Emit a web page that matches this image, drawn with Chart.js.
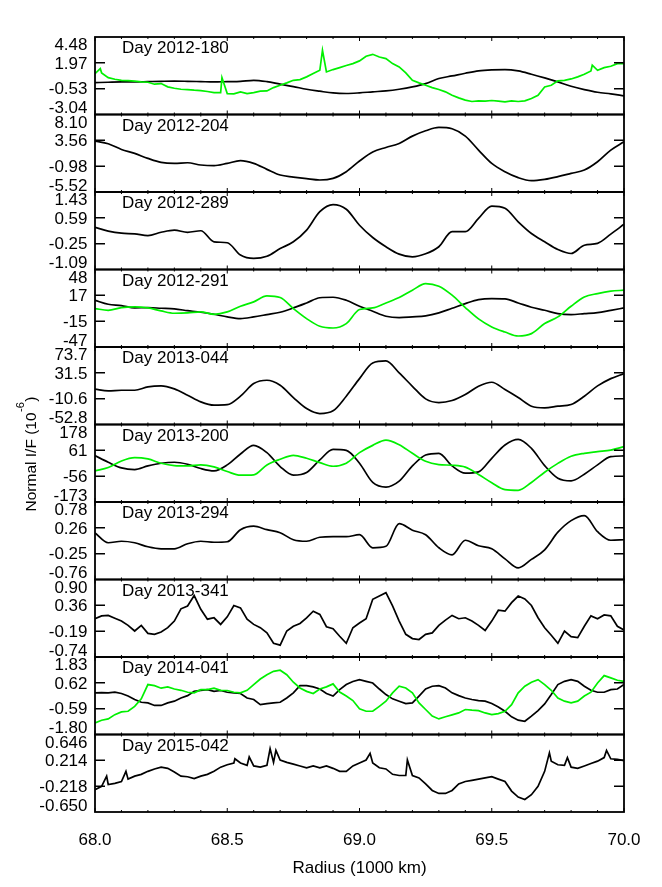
<!DOCTYPE html>
<html lang="en">
<head>
<meta charset="UTF-8">
<title>Normal I/F radial profiles</title>
<script src="https://cdn.jsdelivr.net/npm/chart.js@4"></script>
<style>
  html, body { margin: 0; padding: 0; background: #fff; }
  #wrap { width: 662px; height: 887px; }
</style>
</head>
<body>
<div id="wrap"><canvas id="profiles" width="662" height="887"></canvas></div>
<script>
// radius grids (1000 km)
const r41 = [68.00,68.05,68.10,68.15,68.20,68.25,68.30,68.35,68.40,68.45,68.50,68.55,68.60,68.65,68.70,68.75,68.80,68.85,68.90,68.95,
  69.00,69.05,69.10,69.15,69.20,69.25,69.30,69.35,69.40,69.45,69.50,69.55,69.60,69.65,69.70,69.75,69.80,69.85,69.90,69.95,70.00];
const r81 = [68.000,68.025,68.050,68.075,68.100,68.125,68.150,68.175,68.200,68.225,68.250,68.275,68.300,68.325,68.350,68.375,
  68.400,68.425,68.450,68.475,68.500,68.525,68.550,68.575,68.600,68.625,68.650,68.675,68.700,68.725,68.750,68.775,
  68.800,68.825,68.850,68.875,68.900,68.925,68.950,68.975,69.000,69.025,69.050,69.075,69.100,69.125,69.150,69.175,
  69.200,69.225,69.250,69.275,69.300,69.325,69.350,69.375,69.400,69.425,69.450,69.475,69.500,69.525,69.550,69.575,
  69.600,69.625,69.650,69.675,69.700,69.725,69.750,69.775,69.800,69.825,69.850,69.875,69.900,69.925,69.950,69.975,70.000];

const xTickValues = [68.0, 68.5, 69.0, 69.5, 70.0];

const panelDays = ['Day 2012-180', 'Day 2012-204', 'Day 2012-289', 'Day 2012-291', 'Day 2013-044',
  'Day 2013-200', 'Day 2013-294', 'Day 2013-341', 'Day 2014-041', 'Day 2015-042'];

// y labels per panel, bottom to top
const yTickLabels = [
  ['-3.04', '-0.53', '1.97', '4.48'],
  ['-5.52', '-0.98', '3.56', '8.10'],
  ['-1.09', '-0.25', '0.59', '1.43'],
  ['-47', '-15', '17', '48'],
  ['-52.8', '-10.6', '31.5', '73.7'],
  ['-173', '-56', '61', '178'],
  ['-0.76', '-0.25', '0.26', '0.78'],
  ['-0.74', '-0.19', '0.36', '0.90'],
  ['-1.80', '-0.59', '0.62', '1.83'],
  ['-0.650', '-0.218', '0.214', '0.646']
];

// Day 2012-180
const k180 = [0.05,0.09,0.12,0.12,0.15,0.18,0.2,0.18,0.15,0.12,0.15,0.18,0.28,0.15,-0.1,-0.33,-0.59,-0.78,-0.95,-1.0,
  -0.94,-0.84,-0.75,-0.59,-0.36,-0.04,0.45,0.70,0.96,1.19,1.29,1.32,1.19,0.87,0.51,0.12,-0.3,-0.62,-0.88,-1.04,-1.23];
const g180 = [0.93,1.0,0.54,0.38,0.28,0.25,0.19,0.12,0.09,-0.1,-0.04,-0.36,-0.49,-0.59,-0.62,-0.68,-0.72,-0.81,-0.91,-0.91,
  -1.01,-1.04,-0.84,-1.01,-0.91,-0.78,-0.75,-0.43,-0.2,0.03,0.28,0.35,0.61,0.93,1.25,1.09,1.32,1.51,1.71,1.90,
  2.16,2.61,2.80,2.54,2.38,1.90,1.58,1.0,0.28,0.03,-0.2,-0.43,-0.62,-0.84,-1.17,-1.43,-1.65,-1.78,-1.72,-1.75,
  -1.68,-1.75,-1.81,-1.72,-1.78,-1.72,-1.49,-1.17,-0.36,-0.2,0.22,0.28,0.41,0.61,0.87,1.19,1.25,1.51,1.64,1.90,1.90];
const g180Spikes = [[68.02, 1.41], [68.48, 0.54], [68.86, 3.19], [69.88, 1.74]];

// Day 2012-204
const k204 = [3.42,2.96,1.96,1.26,0.38,-0.32,-0.49,-0.38,-0.78,-0.9,-0.49,-0.02,-0.49,-1.54,-2.54,-2.89,-3.18,-3.41,-3.12,-1.95,
  -0.08,1.5,2.31,3.01,4.3,5.24,5.82,5.59,4.3,1.85,-0.49,-1.95,-3.0,-3.53,-3.3,-2.83,-2.25,-1.66,-0.2,1.85,3.31];

// Day 2012-289
const k289 = [0.28,0.16,0.09,0.07,0.01,0.12,0.19,0.12,0.17,-0.19,-0.22,-0.62,-0.73,-0.66,-0.41,-0.19,0.19,0.79,1.02,0.87,
  0.35,-0.05,-0.35,-0.59,-0.68,-0.58,-0.35,0.14,0.14,0.57,0.97,0.9,0.46,0.08,-0.19,-0.44,-0.57,-0.3,-0.24,0.06,0.38];

// Day 2012-291
const k291 = [10.3,5.4,3.8,0.9,1.3,0.5,-0.3,-2.4,-4.4,-6.9,-10.1,-12.2,-10.1,-7.3,-4.4,0.9,7.0,13.4,14.0,10.3,
  3.0,-3.2,-9.3,-11.0,-10.1,-8.9,-5.2,0.5,6.2,11.1,12.4,12.0,7.0,1.7,-2.0,-6.1,-7.3,-6.1,-4.8,-2.0,0.9];
const g291 = [0.1,-2.0,1.3,2.1,0.9,-2.8,-5.6,-5.2,-4.0,-6.9,-4.0,3.0,8.3,15.6,13.6,0.1,-12.2,-21.6,-23.7,-18.3,
  -1.1,0.9,7.0,13.6,22.6,30.8,27.5,16.5,1.3,-12.6,-22.4,-28.6,-33.5,-30.6,-18.3,-10.1,3.0,14.4,18.5,21.4,22.6];

// Day 2013-044
const k044 = [4.8,2.0,3.1,3.1,8.6,10.2,5.3,-5.0,-15.9,-21.3,-20.5,-6.6,14.0,19.4,11.3,-8.8,-26.7,-34.9,-30.5,-6.6,
  22.1,47.6,50.9,31.4,9.6,-11.0,-17.0,-13.7,-3.9,9.6,16.2,4.2,-8.8,-22.9,-25.6,-22.9,-20.2,-6.6,10.2,22.1,30.3];

// Day 2013-200
const k200 = [37,7,-18.5,-26,-9.5,2.5,7,-2,-21.5,-32,-5,44.5,83.5,50.5,-12.5,-51.5,-39.5,17.5,65.5,61,
  2.5,-84.5,-105.5,-78.5,-9.5,40,47.5,-9.5,-42.5,-36.5,25,85,110.5,70,-8,-65,-77,-47,-5,32.5,35.5];
const g200 = [-32,-17,13,28,22,2.5,-8,-9.5,-5,-14,-35,-51.5,-50,-5,20.5,38.5,25,5.5,-11,2.5,
  50.5,83.5,107.5,86.5,47.5,11.5,-3.5,-6.5,-15,-48,-86,-117,-120,-84.5,-38,2,34,47.5,55,62,77.5];

// Day 2013-294
const k294 = [0.165,-0.03,0.0,-0.03,-0.11,-0.15,-0.15,-0.05,0.0,-0.02,-0.01,0.23,0.30,0.23,0.17,0.03,0.0,0.08,0.09,0.09,
  0.13,-0.13,-0.10,0.35,0.22,0.13,-0.13,-0.27,0.02,-0.09,-0.15,-0.35,-0.53,-0.36,-0.17,0.18,0.41,0.51,0.19,0.02,0.03];

// Day 2013-341
const k341 = [0.07,0.13,0.14,0.08,0.02,-0.07,-0.19,-0.07,-0.24,-0.26,-0.21,-0.12,0.02,0.28,0.34,0.56,0.27,0.06,0.09,-0.05,
  0.11,0.35,0.30,0.06,-0.05,-0.12,-0.23,-0.45,-0.49,-0.19,-0.09,-0.03,0.09,0.23,0.16,-0.10,-0.14,-0.30,-0.45,-0.12,
  -0.02,0.07,0.48,0.55,0.62,0.34,0.02,-0.26,-0.35,-0.37,-0.26,-0.23,-0.07,0.04,0.14,0.07,0.09,0.02,-0.07,-0.18,
  0.02,0.25,0.23,0.41,0.55,0.49,0.35,0.09,-0.12,-0.28,-0.45,-0.19,-0.31,-0.33,-0.09,0.13,0.07,0.15,0.13,-0.09,-0.17];

// Day 2014-041
const k041 = [0.15,0.16,0.15,0.18,0.12,0.0,-0.16,-0.29,-0.32,-0.44,-0.44,-0.32,-0.24,-0.09,0.02,0.22,0.27,0.3,0.22,0.26,
  0.18,0.15,0.12,-0.09,-0.16,-0.4,-0.35,-0.32,-0.29,-0.09,0.15,0.49,0.49,0.43,0.33,0.12,0.0,0.3,0.54,0.68,
  0.77,0.69,0.61,0.33,0.07,-0.13,-0.24,-0.35,-0.32,0.0,0.33,0.46,0.49,0.38,0.15,0.02,-0.09,-0.16,-0.21,-0.24,
  -0.35,-0.51,-0.71,-0.97,-1.13,-1.18,-0.94,-0.68,-0.37,0.07,0.54,0.69,0.77,0.69,0.46,0.27,0.18,0.18,0.3,0.33,0.54];
const g041 = [-1.26,-1.13,-1.07,-0.87,-0.74,-0.71,-0.48,-0.13,0.54,0.49,0.37,0.43,0.33,0.27,0.18,0.15,0.30,0.30,0.37,0.27,
  0.26,0.18,0.15,0.27,0.54,0.8,1.0,1.16,1.21,1.0,0.65,0.38,0.22,0.12,0.33,0.43,0.57,0.19,0.0,-0.21,
  -0.6,-0.71,-0.71,-0.48,-0.24,0.15,0.46,0.38,0.15,-0.32,-0.63,-0.94,-1.07,-0.97,-0.88,-0.79,-0.63,-0.66,-0.68,-0.79,
  -0.87,-0.82,-0.71,-0.4,0.15,0.46,0.65,0.77,0.54,0.27,-0.09,-0.24,-0.32,-0.24,0.0,0.18,0.61,0.96,0.85,0.74,0.69];

// Day 2015-042
const k042 = [-0.276,-0.22,-0.19,-0.17,-0.14,-0.10,-0.05,-0.02,0.03,0.07,0.10,0.08,0.02,-0.05,-0.06,-0.09,-0.05,-0.02,0.03,0.10,
  0.14,0.17,0.17,0.13,0.12,0.10,0.13,0.18,0.22,0.18,0.15,0.12,0.09,0.12,0.09,0.12,0.08,0.03,0.03,0.12,
  0.17,0.22,0.17,0.09,0.07,-0.02,-0.04,-0.04,-0.04,-0.08,-0.18,-0.29,-0.34,-0.34,-0.29,-0.18,-0.14,-0.12,-0.10,-0.08,
  -0.06,-0.10,-0.14,-0.30,-0.40,-0.44,-0.36,-0.22,0.03,0.20,0.14,0.13,0.10,0.08,0.12,0.16,0.20,0.26,0.24,0.23,0.21];
const k042Spikes = [[68.044, -0.05], [68.117, 0.03], [68.529, 0.24], [68.583, 0.27], [68.662, 0.41], [68.684, 0.38],
  [69.04, 0.33], [69.181, 0.22], [69.718, 0.34], [69.786, 0.26], [69.934, 0.38]];

const blackSeries = [k180, k204, k289, k291, k044, k200, k294, k341, k041, k042];
const blackGrids  = [r41, r41, r41, r41, r41, r41, r41, r81, r81, r81];
const blackSpikes = [null, null, null, null, null, null, null, null, null, k042Spikes];
const greenSeries = [g180, null, null, g291, null, g200, null, null, g041, null];
const greenGrids  = [r81, null, null, r41, null, r41, null, null, r81, null];
const greenSpikes = [g180Spikes, null, null, null, null, null, null, null, null, null];

const BLACK = '#000000';
const GREEN = '#00f000';
const FONT = '"Liberation Sans", Arial, Helvetica, sans-serif';

Chart.defaults.font.family = FONT;
Chart.defaults.font.size = 17;
Chart.defaults.color = '#000';

function toPoints(grid, vals, spikes) {
  const pts = grid.map((r, i) => ({ x: r, y: vals[i] }));
  (spikes || []).forEach(([r, v]) => pts.push({ x: r, y: v }));
  return pts.sort((a, b) => a.x - b.x);
}

// coarse (0.05) profiles are smooth in the original: let the library curve them
function lineStyle(grid) {
  return grid === r41 ? { cubicInterpolationMode: 'monotone' } : { tension: 0 };
}

const datasets = [];
panelDays.forEach((day, i) => {
  datasets.push(Object.assign({
    label: day,
    data: toPoints(blackGrids[i], blackSeries[i], blackSpikes[i]),
    yAxisID: 'y' + i,
    borderColor: BLACK,
    borderWidth: 1.7,
    pointRadius: 0,
    order: 1
  }, lineStyle(blackGrids[i])));
  if (greenSeries[i]) {
    datasets.push(Object.assign({
      label: day + ' (green)',
      data: toPoints(greenGrids[i], greenSeries[i], greenSpikes[i]),
      yAxisID: 'y' + i,
      borderColor: GREEN,
      borderWidth: 1.7,
      pointRadius: 0,
      order: 0
    }, lineStyle(greenGrids[i])));
  }
});

const scales = {
  x: {
    type: 'linear',
    position: 'bottom',
    min: 68,
    max: 70,
    grid: { display: false, drawTicks: false },
    border: { display: false },
    afterBuildTicks: s => { s.ticks = xTickValues.map(v => ({ value: v })); },
    afterFit: s => { s.height = 75; },
    ticks: { padding: 18, maxRotation: 0, autoSkip: false, callback: v => v.toFixed(1) },
    title: { display: true, text: 'Radius (1000 km)', font: { size: 17 }, padding: { top: 0, bottom: 8 } }
  }
};

panelDays.forEach((day, i) => {
  const labels = yTickLabels[i];
  const lo = parseFloat(labels[0]);
  const hi = parseFloat(labels[3]);
  const span = hi - lo;
  scales['y' + i] = {
    type: 'linear',
    position: 'left',
    stack: 'panels',
    stackWeight: 1,
    weight: 10 - i,
    min: lo,
    max: hi,
    grid: { display: false, drawTicks: false },
    border: { display: false },
    // top and bottom labels sit just inside the panel, as in the original
    afterBuildTicks: s => {
      s.ticks = [lo + 0.077 * span, lo + span / 3 - 0.013 * span, lo + 2 * span / 3 - 0.013 * span, hi - 0.11 * span]
        .map(v => ({ value: v }));
    },
    afterFit: s => { s.width = 95; },
    ticks: { autoSkip: false, padding: 7.5, callback: (v, k) => labels[k] }
  };
});

// panel boxes, inward tick marks, day labels and the y title
const framePlugin = {
  id: 'frame',
  afterDatasetsDraw(chart) {
    const ctx = chart.ctx;
    const area = chart.chartArea;
    const xs = chart.scales.x;
    ctx.save();
    ctx.strokeStyle = '#000';
    ctx.fillStyle = '#000';
    panelDays.forEach((day, i) => {
      const s = chart.scales['y' + i];
      const lo = parseFloat(yTickLabels[i][0]);
      const span = parseFloat(yTickLabels[i][3]) - lo;

      ctx.lineWidth = 1.8;
      ctx.strokeRect(area.left, s.top, area.right - area.left, s.bottom - s.top);

      ctx.lineWidth = 1.5;
      ctx.beginPath();
      [lo + span / 3, lo + 2 * span / 3].forEach(v => {
        const py = s.getPixelForValue(v);
        ctx.moveTo(area.left, py); ctx.lineTo(area.left + 10, py);
        ctx.moveTo(area.right, py); ctx.lineTo(area.right - 10, py);
      });
      ctx.stroke();

      ctx.lineWidth = 1;
      ctx.beginPath();
      for (let t = 0; t <= 20; t++) {
        const px = xs.getPixelForValue(68 + t / 10);
        const len = t % 5 === 0 ? 4 : 2;
        ctx.moveTo(px, s.top); ctx.lineTo(px, s.top + len);
        ctx.moveTo(px, s.bottom); ctx.lineTo(px, s.bottom - len);
      }
      ctx.stroke();

      ctx.font = '17px ' + FONT;
      ctx.textAlign = 'left';
      ctx.textBaseline = 'alphabetic';
      ctx.fillText(day, area.left + 27, s.top + 16);
    });

    // Normal I/F (10^-6)
    const main = 'Normal I/F (10';
    const sup = '-6';
    const close = ')';
    ctx.translate(36, 454);
    ctx.rotate(-Math.PI / 2);
    ctx.font = '15.5px ' + FONT;
    const wMain = ctx.measureText(main).width;
    const wClose = ctx.measureText(close).width;
    ctx.font = '11px ' + FONT;
    const wSup = ctx.measureText(sup).width;
    const x0 = -(wMain + wSup + wClose + 1) / 2;
    ctx.textAlign = 'left';
    ctx.textBaseline = 'alphabetic';
    ctx.font = '15.5px ' + FONT;
    ctx.fillText(main, x0, 0);
    ctx.font = '11px ' + FONT;
    ctx.fillText(sup, x0 + wMain + 0.5, -12);
    ctx.font = '15.5px ' + FONT;
    ctx.fillText(close, x0 + wMain + wSup + 1, 0);
    ctx.restore();
  }
};

new Chart(document.getElementById('profiles'), {
  type: 'line',
  data: { datasets },
  options: {
    responsive: false,
    devicePixelRatio: 1,
    animation: false,
    layout: { padding: { top: 37, right: 38, bottom: 0, left: 0 } },
    plugins: { legend: { display: false }, tooltip: { enabled: false } },
    scales
  },
  plugins: [framePlugin]
});
</script>
</body>
</html>
